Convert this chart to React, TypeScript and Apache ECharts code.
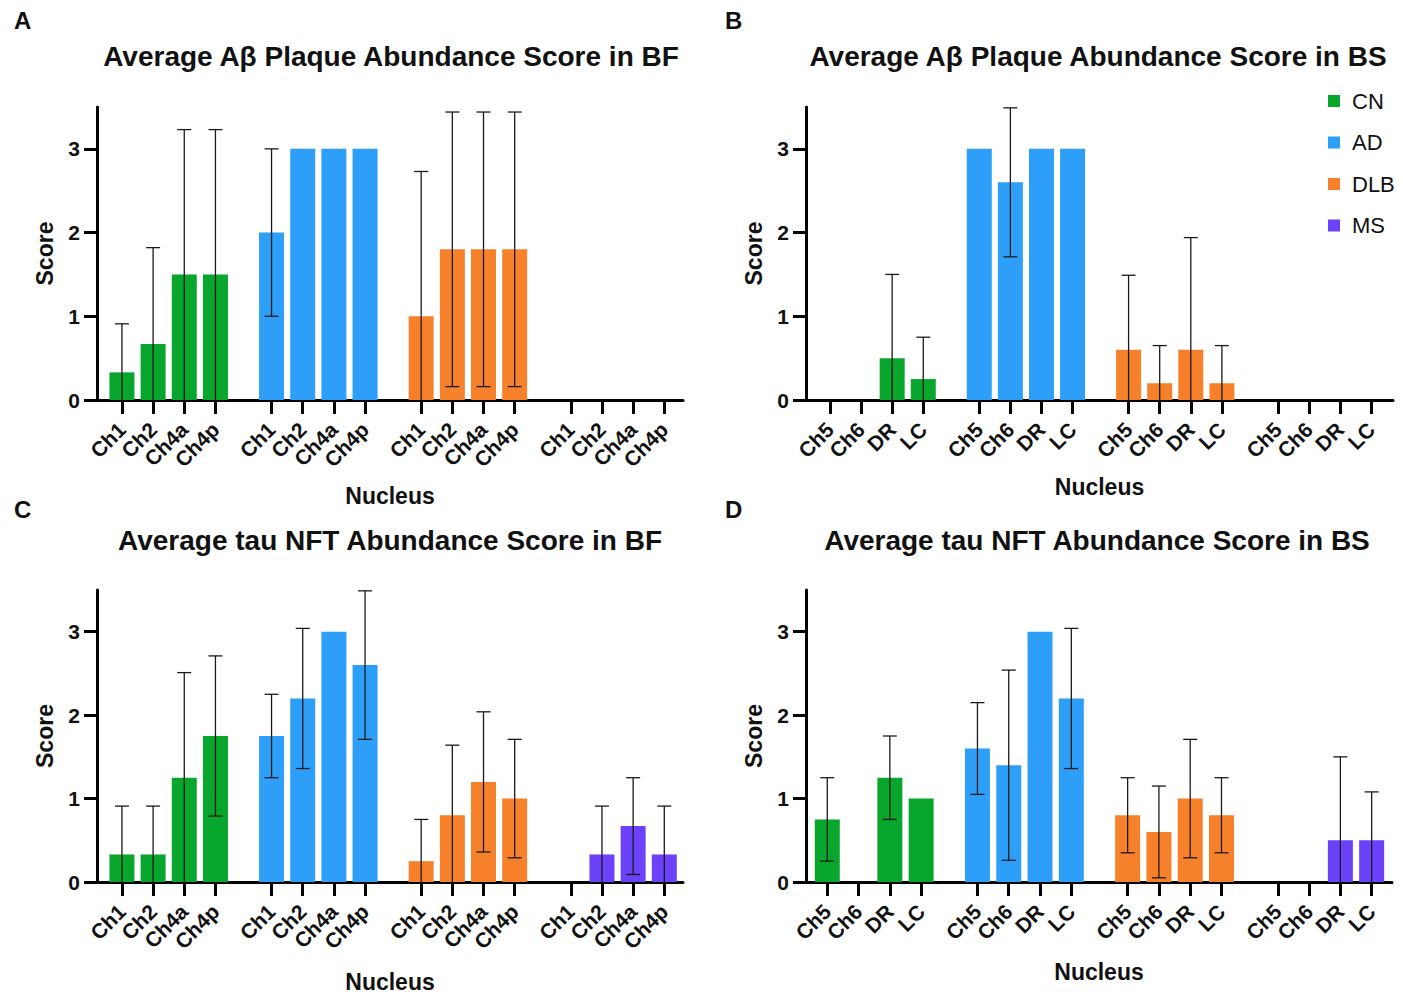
import React, { useEffect, useRef } from "react";
import * as echarts from "echarts";

// ---------- data ----------
const GROUPS = ["CN", "AD", "DLB", "MS"];
const GROUP_COLORS = ["#08a62c", "#2e9ff8", "#f7802b", "#6b41f9"];
const NUCLEI_BF = ["Ch1", "Ch2", "Ch4a", "Ch4p"];
const NUCLEI_BS = ["Ch5", "Ch6", "DR", "LC"];
const Y_TICKS = [0, 1, 2, 3];

// rows: CN, AD, DLB, MS ; columns: nuclei
const PLAQUE_BF_MEAN = [
  [0.33, 0.67, 1.5, 1.5],
  [2.0, 3.0, 3.0, 3.0],
  [1.0, 1.8, 1.8, 1.8],
  [0, 0, 0, 0],
];
const PLAQUE_BF_SD = [
  [0.58, 1.15, 1.73, 1.73],
  [1.0, 0, 0, 0],
  [1.73, 1.64, 1.64, 1.64],
  [0, 0, 0, 0],
];
const PLAQUE_BS_MEAN = [
  [0, 0, 0.5, 0.25],
  [3.0, 2.6, 3.0, 3.0],
  [0.6, 0.2, 0.6, 0.2],
  [0, 0, 0, 0],
];
const PLAQUE_BS_SD = [
  [0, 0, 1.0, 0.5],
  [0, 0.89, 0, 0],
  [0.89, 0.45, 1.34, 0.45],
  [0, 0, 0, 0],
];
const TAU_BF_MEAN = [
  [0.33, 0.33, 1.25, 1.75],
  [1.75, 2.2, 3.0, 2.6],
  [0.25, 0.8, 1.2, 1.0],
  [0, 0.33, 0.67, 0.33],
];
const TAU_BF_SD = [
  [0.58, 0.58, 1.26, 0.96],
  [0.5, 0.84, 0, 0.89],
  [0.5, 0.84, 0.84, 0.71],
  [0, 0.58, 0.58, 0.58],
];
const TAU_BS_MEAN = [
  [0.75, 0, 1.25, 1.0],
  [1.6, 1.4, 3.0, 2.2],
  [0.8, 0.6, 1.0, 0.8],
  [0, 0, 0.5, 0.5],
];
const TAU_BS_SD = [
  [0.5, 0, 0.5, 0],
  [0.55, 1.14, 0, 0.84],
  [0.45, 0.55, 0.71, 0.45],
  [0, 0, 1.0, 0.58],
];

// ---------- layout ----------
const GROUP_PITCH = 4.8;
const xPos = (g: number, i: number) => g * GROUP_PITCH + i;
const FONT = "Arial, 'Liberation Sans', Helvetica, sans-serif";
const TEXT = "#111";

const PANELS = [
  {
    letter: "A", title: "Average Aβ Plaque Abundance Score in BF",
    nuclei: NUCLEI_BF, mean: PLAQUE_BF_MEAN, sd: PLAQUE_BF_SD,
    left: 97, top: 107, width: 586, height: 293, xMin: -0.8, xMax: 18.0,
    nameGap: 84, titleX: 391, titleY: 42, letterX: 14, letterY: 8,
  },
  {
    letter: "B", title: "Average Aβ Plaque Abundance Score in BS",
    nuclei: NUCLEI_BS, mean: PLAQUE_BS_MEAN, sd: PLAQUE_BS_SD,
    left: 806, top: 107, width: 587, height: 293, xMin: -0.77, xMax: 18.1,
    nameGap: 75, titleX: 1098, titleY: 42, letterX: 725, letterY: 8,
  },
  {
    letter: "C", title: "Average tau NFT Abundance Score in BF",
    nuclei: NUCLEI_BF, mean: TAU_BF_MEAN, sd: TAU_BF_SD,
    left: 97, top: 590, width: 586, height: 292, xMin: -0.8, xMax: 18.0,
    nameGap: 88, titleX: 390, titleY: 526, letterX: 14, letterY: 497,
  },
  {
    letter: "D", title: "Average tau NFT Abundance Score in BS",
    nuclei: NUCLEI_BS, mean: TAU_BS_MEAN, sd: TAU_BS_SD,
    left: 806, top: 590, width: 586, height: 292, xMin: -0.68, xMax: 18.05,
    nameGap: 78, titleX: 1097, titleY: 526, letterX: 725, letterY: 497,
  },
];

function buildOption() {
  const grid: any[] = [];
  const xAxis: any[] = [];
  const yAxis: any[] = [];
  const series: any[] = [];
  const title: any[] = [];

  PANELS.forEach((p, k) => {
    const positions: number[] = [];
    const labels: string[] = [];
    GROUPS.forEach((_, g) =>
      p.nuclei.forEach((n, i) => {
        positions.push(xPos(g, i));
        labels.push(n);
      })
    );
    const labelFor = (v: number) => {
      let best = 0;
      positions.forEach((q, j) => {
        if (Math.abs(q - v) < Math.abs(positions[best] - v)) best = j;
      });
      return labels[best];
    };

    grid.push({ left: p.left, top: p.top, width: p.width, height: p.height });
    xAxis.push({
      gridIndex: k,
      type: "value",
      min: p.xMin,
      max: p.xMax,
      axisLine: { show: true, onZero: false, lineStyle: { color: "#000", width: 3 } },
      axisTick: { show: true, customValues: positions, length: 14, lineStyle: { color: "#000", width: 3 } },
      axisLabel: {
        show: true,
        customValues: positions,
        rotate: 45,
        margin: 26,
        formatter: (v: number) => labelFor(v),
        fontFamily: FONT,
        fontWeight: "bold",
        fontSize: 21,
        color: TEXT,
      },
      splitLine: { show: false },
      name: "Nucleus",
      nameLocation: "middle",
      nameGap: p.nameGap,
      nameMoveOverlap: false,
      nameTextStyle: { fontFamily: FONT, fontWeight: "bold", fontSize: 23, color: TEXT },
    });
    yAxis.push({
      gridIndex: k,
      type: "value",
      min: 0,
      max: 3.5,
      axisLine: { show: true, onZero: false, lineStyle: { color: "#000", width: 3 } },
      axisTick: { show: true, customValues: Y_TICKS, length: 13, lineStyle: { color: "#000", width: 3 } },
      axisLabel: {
        customValues: Y_TICKS,
        margin: 17,
        fontFamily: FONT,
        fontWeight: "bold",
        fontSize: 21,
        color: TEXT,
      },
      splitLine: { show: false },
      name: "Score",
      nameLocation: "middle",
      nameGap: 41,
      nameMoveOverlap: false,
      nameTextStyle: { fontFamily: FONT, fontWeight: "bold", fontSize: 23, color: TEXT },
    });

    GROUPS.forEach((gName, g) => {
      series.push({
        type: "bar",
        name: gName,
        xAxisIndex: k,
        yAxisIndex: k,
        barWidth: 25,
        barGap: "-100%",
        itemStyle: { color: GROUP_COLORS[g] },
        data: p.nuclei.map((_, i) => [xPos(g, i), p.mean[g][i]]),
        z: 2,
      });
    });

    const errData: number[][] = [];
    GROUPS.forEach((_, g) =>
      p.nuclei.forEach((_n, i) => errData.push([xPos(g, i), p.mean[g][i], p.sd[g][i]]))
    );
    series.push({
      type: "custom",
      name: "err" + k,
      xAxisIndex: k,
      yAxisIndex: k,
      z: 5,
      silent: true,
      data: errData,
      renderItem: (_params: any, api: any) => {
        const x = api.value(0);
        const m = api.value(1);
        const s = api.value(2);
        if (!(s > 0)) return null;
        const hi = m + s;
        const lo = Math.max(0, m - s);
        const pHi = api.coord([x, hi]);
        const pLo = api.coord([x, lo]);
        const style = { stroke: "#1a1a1a", lineWidth: 1.3 };
        const cap = 7;
        const children: any[] = [
          { type: "line", shape: { x1: pHi[0], y1: pHi[1], x2: pLo[0], y2: pLo[1] }, style },
          { type: "line", shape: { x1: pHi[0] - cap, y1: pHi[1], x2: pHi[0] + cap, y2: pHi[1] }, style },
        ];
        if (m - s > 0) {
          children.push({ type: "line", shape: { x1: pLo[0] - cap, y1: pLo[1], x2: pLo[0] + cap, y2: pLo[1] }, style });
        }
        return { type: "group", children };
      },
    });

    title.push({
      text: p.title,
      left: p.titleX,
      top: p.titleY,
      textAlign: "center",
      padding: 0,
      textStyle: { fontFamily: FONT, fontWeight: "bold", fontSize: 28, color: TEXT },
    });
    title.push({
      text: p.letter,
      left: p.letterX,
      top: p.letterY,
      padding: 0,
      textStyle: { fontFamily: FONT, fontWeight: "bold", fontSize: 24, color: TEXT },
    });
  });

  return {
    animation: false,
    backgroundColor: "#fff",
    title,
    legend: {
      data: GROUPS,
      orient: "vertical",
      left: 1328,
      top: 90,
      icon: "rect",
      itemWidth: 12,
      itemHeight: 12,
      itemGap: 19.5,
      padding: 0,
      textStyle: { fontFamily: FONT, fontSize: 22, lineHeight: 22, color: TEXT, padding: [0, 0, 0, 7] },
    },
    grid,
    xAxis,
    yAxis,
    series,
  };
}

export default function App() {
  const ref = useRef<HTMLDivElement>(null);
  useEffect(() => {
    if (!ref.current) return;
    const chart = echarts.init(ref.current, undefined, { renderer: "svg" });
    chart.setOption(buildOption() as any);
    return () => chart.dispose();
  }, []);
  return (
    <div
      ref={ref}
      style={{ position: "fixed", left: 0, top: 0, width: 1403, height: 994, background: "#fff" }}
    />
  );
}
